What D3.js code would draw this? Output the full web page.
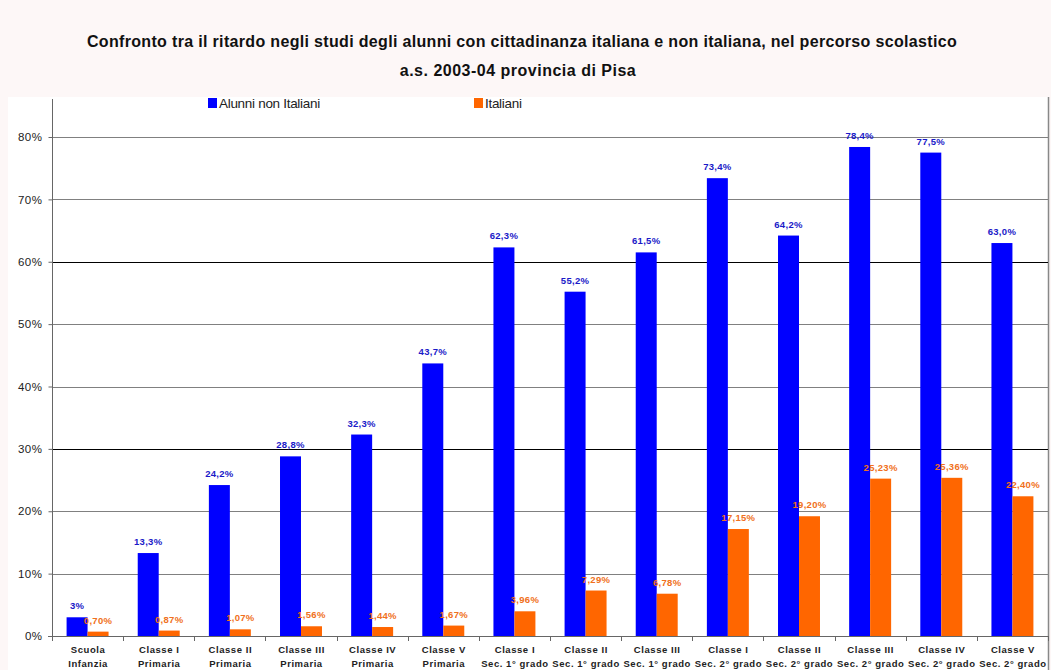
<!DOCTYPE html>
<html><head><meta charset="utf-8">
<script src="https://cdn.jsdelivr.net/npm/d3@7"></script>
<style>body{margin:0;background:#fdf7f7;}svg{display:block;font-family:Arial,"Liberation Sans",sans-serif;}</style>
</head><body><svg id="c" width="1051" height="670"></svg>
<script>
const categories = [
  ["Scuola","Infanzia"],["Classe I","Primaria"],["Classe II","Primaria"],["Classe III","Primaria"],
  ["Classe IV","Primaria"],["Classe V","Primaria"],["Classe I","Sec. 1° grado"],["Classe II","Sec. 1° grado"],
  ["Classe III","Sec. 1° grado"],["Classe I","Sec. 2° grado"],["Classe II","Sec. 2° grado"],["Classe III","Sec. 2° grado"],
  ["Classe IV","Sec. 2° grado"],["Classe V","Sec. 2° grado"]
];
const nonItaliani = [3, 13.3, 24.2, 28.8, 32.3, 43.7, 62.3, 55.2, 61.5, 73.4, 64.2, 78.4, 77.5, 63.0];
const nonItalianiLabels = ["3%","13,3%","24,2%","28,8%","32,3%","43,7%","62,3%","55,2%","61,5%","73,4%","64,2%","78,4%","77,5%","63,0%"];
const italiani = [0.70, 0.87, 1.07, 1.56, 1.44, 1.67, 3.96, 7.29, 6.78, 17.15, 19.20, 25.23, 25.36, 22.40];
const italianiLabels = ["0,70%","0,87%","1,07%","1,56%","1,44%","1,67%","3,96%","7,29%","6,78%","17,15%","19,20%","25,23%","25,36%","22,40%"];
const yTicks = [0,10,20,30,40,50,60,70,80];
const seriesNames = ["Alunni non Italiani","Italiani"];
const colors = ["#0000ff","#ff6600"];
const labelColors = ["#1a1ac8","#f07020"];

const svg = d3.select("#c");
// white panel
svg.append("rect").attr("x",8).attr("y",97).attr("width",1040).attr("height",573).attr("fill","#fff");
svg.append("line").attr("x1",1048.5).attr("x2",1048.5).attr("y1",97).attr("y2",670).attr("stroke","#888").attr("stroke-width",1.5);

const x0 = d3.scaleBand().domain(d3.range(categories.length)).range([52,1048]).paddingInner(0.41).paddingOuter(0.205);
const x1 = d3.scaleBand().domain([0,1]).range([0,x0.bandwidth()]);
const y = d3.scaleLinear().domain([0,80]).range([636,137]);

// gridlines
svg.append("g").selectAll("line").data(yTicks.filter(d=>d>0)).join("line")
  .attr("x1",52).attr("x2",1048).attr("y1",d=>Math.round(y(d))+0.5).attr("y2",d=>Math.round(y(d))+0.5)
  .attr("stroke",d=>(d===30||d===60)?"#000":"#808080").attr("stroke-width",1);

// y axis
const ya = svg.append("g").attr("transform","translate(52.5,0)")
  .call(d3.axisLeft(y).tickValues(yTicks).tickFormat(d=>d+"%").tickSize(4).tickPadding(6));
ya.select(".domain").remove();
ya.selectAll(".tick line").attr("stroke","#666");
ya.selectAll("text").attr("font-size",11.5).attr("fill","#222").style("letter-spacing","0.5px");
svg.append("line").attr("x1",52.5).attr("x2",52.5).attr("y1",99).attr("y2",640).attr("stroke","#666");

// x axis
svg.append("line").attr("x1",48).attr("x2",1048).attr("y1",636.5).attr("y2",636.5).attr("stroke","#666");
svg.append("g").selectAll("line").data(d3.range(categories.length+1)).join("line")
  .attr("x1",i=>Math.round(52+i*(996/categories.length))+0.5).attr("x2",i=>Math.round(52+i*(996/categories.length))+0.5)
  .attr("y1",636).attr("y2",641).attr("stroke","#666");

const series = [nonItaliani, italiani];
const slabels = [nonItalianiLabels, italianiLabels];
series.forEach((vals,s)=>{
  svg.append("g").selectAll("rect").data(vals).join("rect")
    .attr("x",(d,i)=>x0(i)+x1(s)).attr("width",x1.bandwidth())
    .attr("y",d=>y(d)).attr("height",d=>y(0)-y(d)).attr("fill",colors[s]);
  svg.append("g").selectAll("text").data(vals).join("text")
    .attr("x",(d,i)=>x0(i)+x1(s)+x1.bandwidth()/2).attr("y",d=>y(d)-8)
    .attr("text-anchor","middle").attr("font-size",9.5).attr("font-weight","bold")
    .style("letter-spacing","0.3px")
    .attr("fill",labelColors[s]).text((d,i)=>slabels[s][i]);
});

// category labels
const cl = svg.append("g").selectAll("text").data(categories).join("text")
  .attr("text-anchor","middle").attr("font-size",9.5).attr("font-weight","bold").attr("fill","#222")
  .style("letter-spacing","0.55px");
cl.append("tspan").attr("x",(d,i)=>x0(i)+x0.bandwidth()/2+0.5).attr("y",653).text(d=>d[0]);
cl.append("tspan").attr("x",(d,i)=>x0(i)+x0.bandwidth()/2+0.5).attr("y",667).text(d=>d[1]);

// title
svg.append("text").attr("x",522).attr("y",47).attr("text-anchor","middle").attr("font-size",16).attr("font-weight","bold").attr("fill","#111")
  .style("letter-spacing","0.33px")
  .text("Confronto tra il ritardo negli studi degli alunni con cittadinanza italiana e non italiana, nel percorso scolastico");
svg.append("text").attr("x",518).attr("y",76).attr("text-anchor","middle").attr("font-size",16).attr("font-weight","bold").attr("fill","#111")
  .style("letter-spacing","0.5px")
  .text("a.s. 2003-04 provincia di Pisa");

// legend
const lx = [208,474];
seriesNames.forEach((n,s)=>{
  svg.append("rect").attr("x",lx[s]).attr("y",98).attr("width",9).attr("height",10).attr("fill",colors[s]);
  svg.append("text").attr("x",lx[s]+11).attr("y",107.5).attr("font-size",13.5).attr("fill","#222").style("letter-spacing","-0.3px").text(n);
});
</script></body></html>
